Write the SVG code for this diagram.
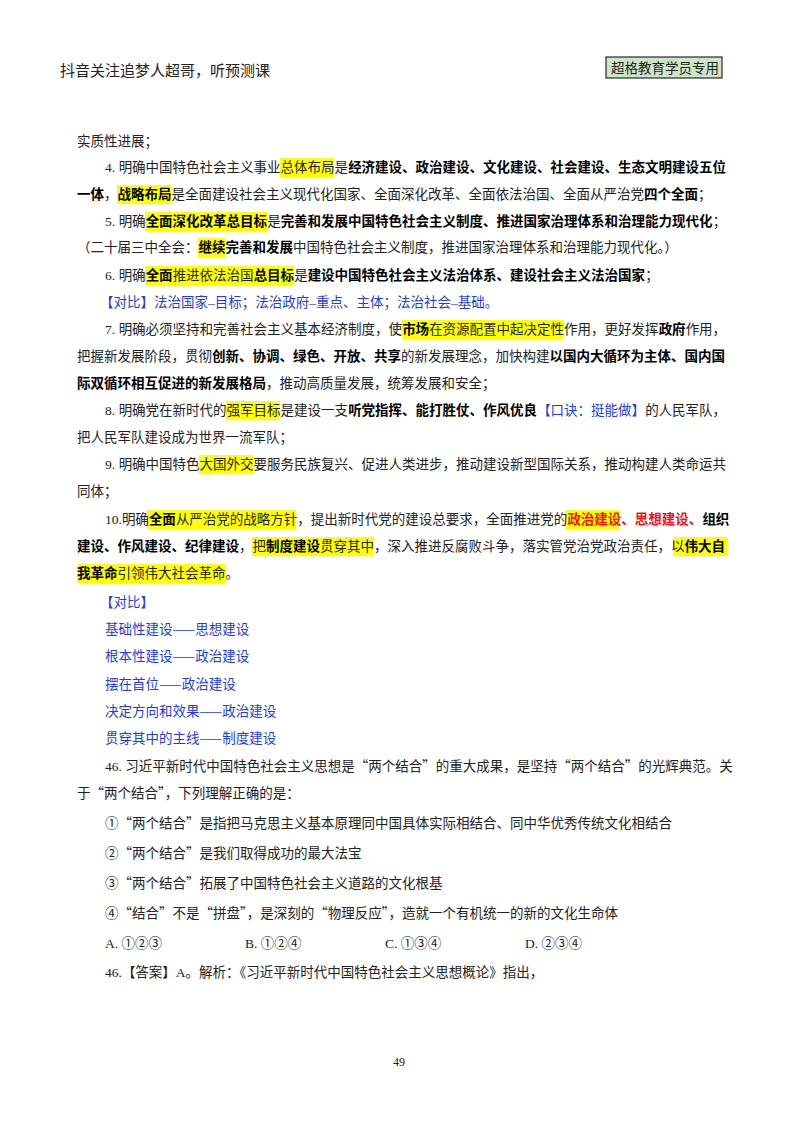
<svg xmlns="http://www.w3.org/2000/svg" width="800" height="1132" viewBox="0 0 800 1132">
<style>
text{font-family:"Liberation Serif","Noto Sans CJK SC",serif;font-size:13.5px;fill:#222}
.b{font-weight:bold;fill:#000}
.bl{fill:#1f3fd0}
.r{fill:#e8141a;font-weight:bold}
.q{font-family:"Noto Sans CJK SC",sans-serif}
.hl{fill:#ffff00}
</style>
<rect width="800" height="1132" fill="#fff"/>
<g id="header">
<text x="60" y="76" style="font-size:15px">抖音关注追梦人超哥，听预测课</text>
<rect x="606" y="57" width="116" height="21" fill="#cfe5c9" stroke="#000" stroke-width="1"/>
<text x="611" y="73" style="font-size:13.5px">超格教育学员专用</text>
</g>
<g id="highlights">
<rect class="hl" x="280" y="158" width="54" height="19"/>
<rect class="hl" x="117" y="185" width="54" height="19"/>
<rect class="hl" x="145" y="212" width="122" height="19"/>
<rect class="hl" x="198" y="238" width="27" height="19"/>
<rect class="hl" x="145" y="266" width="149" height="19"/>
<rect class="hl" x="402" y="320" width="162" height="19"/>
<rect class="hl" x="226" y="401" width="54" height="19"/>
<rect class="hl" x="199" y="455" width="54" height="19"/>
<rect class="hl" x="147" y="510" width="149" height="19"/>
<rect class="hl" x="565" y="510" width="54" height="19"/>
<rect class="hl" x="252" y="537" width="122" height="19"/>
<rect class="hl" x="673" y="537" width="54" height="19"/>
<rect class="hl" x="77" y="564" width="149" height="19"/>
</g>
<g id="body">
<text x="77" y="146">实质性进展；</text>
<text x="105" y="172">4.<tspan dx="3.5">明确中国特色社会主义事业总体布局是</tspan><tspan class="b">经济建设、政治建设、文化建设、社会建设、生态文明建设五位</tspan></text>
<text x="77" y="199"><tspan class="b">一体</tspan>，<tspan class="b">战略布局</tspan>是全面建设社会主义现代化国家、全面深化改革、全面依法治国、全面从严治党<tspan class="b">四个全面</tspan>；</text>
<text x="105" y="226">5.<tspan dx="3.5">明确</tspan><tspan class="b">全面深化改革总目标</tspan>是<tspan class="b">完善和发展中国特色社会主义制度、推进国家治理体系和治理能力现代化</tspan>；</text>
<text x="77" y="252">（二十届三中全会：<tspan class="b">继续完善和发展</tspan>中国特色社会主义制度，推进国家治理体系和治理能力现代化。）</text>
<text x="105" y="280">6.<tspan dx="3.5">明确</tspan><tspan class="b">全面</tspan>推进依法治国<tspan class="b">总目标</tspan>是<tspan class="b">建设中国特色社会主义法治体系、建设社会主义法治国家</tspan>；</text>
<text x="100" y="307" class="bl">【对比】法治国家–目标；法治政府–重点、主体；法治社会–基础。</text>
<text x="105" y="334">7.<tspan dx="3.5">明确必须坚持和完善社会主义基本经济制度，使</tspan><tspan class="b">市场</tspan>在资源配置中起决定性作用，更好发挥<tspan class="b">政府</tspan>作用，</text>
<text x="77" y="361">把握新发展阶段，贯彻<tspan class="b">创新、协调、绿色、开放、共享</tspan>的新发展理念，加快构建<tspan class="b">以国内大循环为主体、国内国</tspan></text>
<text x="77" y="388"><tspan class="b">际双循环相互促进的新发展格局</tspan>，推动高质量发展，统筹发展和安全；</text>
<text x="105" y="415">8.<tspan dx="3.5">明确党在新时代的强军目标是建设一支</tspan><tspan class="b">听党指挥、能打胜仗、作风优良</tspan><tspan class="bl">【口诀：挺能做】</tspan>的人民军队，</text>
<text x="77" y="442">把人民军队建设成为世界一流军队；</text>
<text x="105" y="469">9.<tspan dx="3.5">明确中国特色大国外交要服务民族复兴、促进人类进步，推动建设新型国际关系，推动构建人类命运共</tspan></text>
<text x="77" y="496">同体；</text>
<text x="105" y="524">10.明确<tspan class="b">全面</tspan>从严治党的战略方针，提出新时代党的建设总要求，全面推进党的<tspan class="r">政治建设、思想建设、</tspan><tspan class="b">组织</tspan></text>
<text x="77" y="551"><tspan class="b">建设、作风建设、纪律建设</tspan>，把<tspan class="b">制度建设</tspan>贯穿其中，深入推进反腐败斗争，落实管党治党政治责任，以<tspan class="b">伟大自</tspan></text>
<text x="77" y="578"><tspan class="b">我革命</tspan>引领伟大社会革命。</text>
<text x="100" y="607" class="bl">【对比】</text>
<text x="105" y="634" class="bl">基础性建设<tspan class="q">——</tspan>思想建设</text>
<text x="105" y="661" class="bl">根本性建设<tspan class="q">——</tspan>政治建设</text>
<text x="105" y="689" class="bl">摆在首位<tspan class="q">——</tspan>政治建设</text>
<text x="105" y="716" class="bl">决定方向和效果<tspan class="q">——</tspan>政治建设</text>
<text x="105" y="743" class="bl">贯穿其中的主线<tspan class="q">——</tspan>制度建设</text>
<text x="105" y="771">46. 习近平新时代中国特色社会主义思想是<tspan class="q">“</tspan>两个结合<tspan class="q">”</tspan>的重大成果，是坚持<tspan class="q">“</tspan>两个结合<tspan class="q">”</tspan>的光辉典范。关</text>
<text x="77" y="798">于<tspan class="q">“</tspan>两个结合<tspan class="q">”</tspan>，下列理解正确的是：</text>
<text x="105" y="828">①<tspan class="q">“</tspan>两个结合<tspan class="q">”</tspan>是指把马克思主义基本原理同中国具体实际相结合、同中华优秀传统文化相结合</text>
<text x="105" y="858">②<tspan class="q">“</tspan>两个结合<tspan class="q">”</tspan>是我们取得成功的最大法宝</text>
<text x="105" y="888">③<tspan class="q">“</tspan>两个结合<tspan class="q">”</tspan>拓展了中国特色社会主义道路的文化根基</text>
<text x="105" y="918">④<tspan class="q">“</tspan>结合<tspan class="q">”</tspan>不是<tspan class="q">“</tspan>拼盘<tspan class="q">”</tspan>，是深刻的<tspan class="q">“</tspan>物理反应<tspan class="q">”</tspan>，造就一个有机统一的新的文化生命体</text>
<text x="105" y="948">A. ①②③</text>
<text x="245" y="948">B. ①②④</text>
<text x="385" y="948">C. ①③④</text>
<text x="525" y="948">D. ②③④</text>
<text x="105" y="977">46.【答案】A。解析：《习近平新时代中国特色社会主义思想概论》指出，</text>
<text x="393" y="1066" style="font-size:12px">49</text>
</g>
</svg>
